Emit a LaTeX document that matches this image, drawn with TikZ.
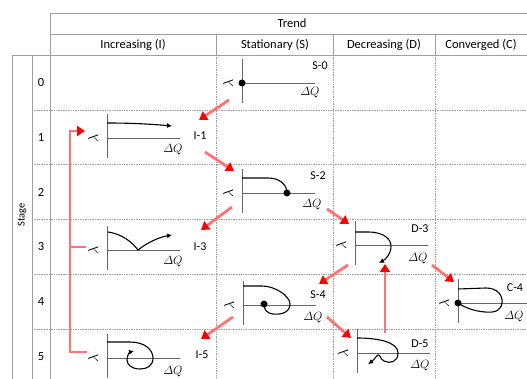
\documentclass[tikz,border=0pt]{standalone}
\usepackage{amsmath}
\usepackage[no-math]{fontspec}
\setmainfont{Carlito}
\usetikzlibrary{arrows.meta}

\tikzset{
  tabline/.style={gray!75, line width=0.7pt},
  cellline/.style={gray!75, line width=0.7pt, densely dotted},
  axisline/.style={black!60, line width=0.6pt},
  trendcurve/.style={black, line width=1.1pt},
  trendarrow/.style={trendcurve, -{Latex[length=5pt,width=5pt]}},
  stepmove/.style={red!55, line width=2.8pt, -{Triangle[length=8pt,width=10pt,color=red,fill=red]}},
  stepline/.style={red!55, line width=2.8pt},
  headtext/.style={font=\fontsize{12.5}{14}\selectfont},
  plottext/.style={font=\fontsize{12}{14}\selectfont},
}

\begin{document}
\begin{tikzpicture}[x=1pt, y=-1pt]
  \useasboundingbox (0,0) rectangle (527,379);

  % Tabellenrahmen
  \draw[tabline] (50,13) -- (540,13);
  \draw[tabline] (50,34) -- (540,34);
  \draw[tabline] (12,55) -- (540,55);
  \draw[tabline] (50,13) -- (50,390);
  \draw[tabline] (12,55) -- (12,390);
  \draw[tabline] (32,55) -- (32,390);
  \foreach \x in {216,333,435} {
    \draw[tabline] (\x,34) -- (\x,55);
    \draw[cellline] (\x,55) -- (\x,390);
  }
  \foreach \y in {110,164,219,274,329} {
    \draw[cellline] (32,\y) -- (540,\y);
  }

  % Kopfzeilen
  \node[headtext] (trend) at (292,23) {Trend};
  \foreach \x/\t in {133/Increasing (I), 275/Stationary (S), 384/Decreasing (D), 481/Converged (C)} {
    \node[headtext] at (\x,45) {\t};
  }
  \node[headtext, rotate=90, font=\fontsize{10.5}{12}\selectfont] (stage) at (22,215) {Stage};
  \foreach \r in {0,...,5} {
    \node[headtext] at (41,{82.5+54.8*\r}) {\r};
  }

  % Achsen und Beschriftung der Diagramme
  \foreach \n/\ox/\oy/\lx/\ly/\qx/\qy in {S-0/242/83/320/66/310/93, I-1/107/138/200/136/173/150,
      S-2/242/193/318/176/312/205, I-3/107/250/200/247/173/262, S-4/243/305/318/295/313/318,
      D-3/355/245/420/229/418/259, C-4/458/303/515/288/514/317, D-5/357/353/420/344/420/366,
      I-5/107/358/202/355/173/372} {
    \draw[axisline] (\ox,\oy-24) -- (\ox,\oy+20);
    \draw[axisline] (\ox,\oy) -- (\ox+73,\oy);
    \node[font=\fontsize{14}{16}\selectfont, rotate=90] at (\ox-14,\oy) {$\lambda$};
    \node[plottext] (\n) at (\lx,\ly) {\n};
    \node[plottext] at (\qx,\qy) {$\varDelta Q$};
  }

  % Verlaeufe
  \fill (242,83) circle (3.5);
  \draw[trendarrow] (107,123) .. controls (130,123) and (150,124) .. (172,126);
  \draw[trendcurve] (242,178) -- (268,178) .. controls (280,178) and (287,185) .. (287,193);
  \fill (287,193) circle (3.5);
  \draw[trendarrow] (108,232) .. controls (122,234) and (132,242) .. (138,250)
    .. controls (148,242) and (160,237) .. (172,235);
  \draw[trendcurve] (243,286) -- (262,286) .. controls (275,286) and (290,296) .. (290,304)
    .. controls (290,312) and (282,315) .. (273,314) .. controls (266,313) and (264,309) .. (264,304);
  \fill (264,304) circle (3.5);
  \draw[trendarrow] (355,232) -- (368,232) .. controls (385,232) and (391,240) .. (391,246)
    .. controls (391,254) and (386,259) .. (379,263);
  \draw[trendcurve] (458,289) -- (486,288) .. controls (498,288) and (503,296) .. (502,303)
    .. controls (501,310) and (496,313) .. (485,312) .. controls (473,311) and (464,307) .. (458,303);
  \fill (458,303) circle (3.5);
  \draw[trendarrow] (357,338) .. controls (378,338) and (398,342) .. (398,353)
    .. controls (398,362) and (390,364) .. (384,361) .. controls (380,359) and (380,354) .. (378,355)
    .. controls (376,356) and (374,360) .. (368,364);
  \draw[trendarrow] (107,342) -- (130,342) .. controls (145,342) and (153,350) .. (153,358)
    .. controls (153,366) and (147,369) .. (140,369) .. controls (132,369) and (127,365) .. (127,360)
    .. controls (127,355) and (130,352) .. (134,351);

  % Uebergaenge
  \coordinate (s0out) at (229,100);  \coordinate (i1in) at (199,120);
  \coordinate (i1out) at (205,152);  \coordinate (s2in) at (234,171);
  \coordinate (s2outl) at (232,207); \coordinate (i3in) at (201,230);
  \coordinate (s2outr) at (327,209); \coordinate (d3in) at (349,224);
  \coordinate (d3outl) at (348,265); \coordinate (s4in) at (319,284);
  \coordinate (d3outr) at (432,265); \coordinate (c4in) at (454,282);
  \coordinate (s4outr) at (327,317); \coordinate (d5in) at (351,338);
  \coordinate (s4outl) at (233,317); \coordinate (i5in) at (201,339);
  \coordinate (d5out) at (385,333);  \coordinate (d3up) at (385,264);
  \draw[stepmove] (s0out) -- (i1in);
  \draw[stepmove] (i1out) -- (s2in);
  \draw[stepmove] (s2outl) -- (i3in);
  \draw[stepmove] (s2outr) -- (d3in);
  \draw[stepmove] (d3outl) -- (s4in);
  \draw[stepmove] (d3outr) -- (c4in);
  \draw[stepmove] (s4outr) -- (d5in);
  \draw[stepmove] (s4outl) -- (i5in);
  \draw[stepmove] (d5out) -- (d3up);

  % Ruecksprung
  \coordinate (i5back) at (87,352);
  \coordinate (i3back) at (86,247);
  \coordinate (i1back) at (85,131);
  \draw[stepmove] (i5back) -- (70,352) -- (70,131) -- (i1back);
  \draw[stepline] (70,247) -- (i3back);

\end{tikzpicture}
\end{document}
